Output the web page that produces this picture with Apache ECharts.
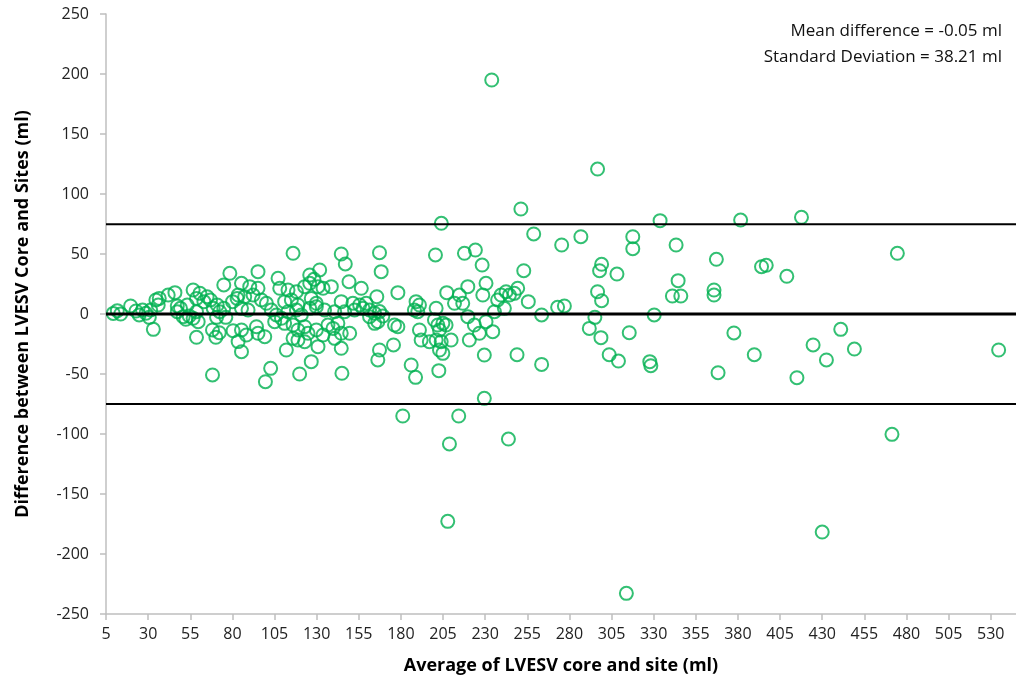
<!DOCTYPE html>
<html><head><meta charset="utf-8">
<script src="https://cdn.jsdelivr.net/npm/echarts@6/dist/echarts.min.js"></script>
<style>html,body{margin:0;padding:0;background:#fff}#c{width:1016px;height:682px}</style>
</head><body><div id="c"></div>
<script>
// Average of LVESV core and site (ml) / Difference core - site (ml), grouped by region of the plot
const avgA = [9.3,11.7,13.7,19.6,22.8,24.7,26.7,28.7,30.7,31.5,33.1,34.6,36.6,36,41.9,45.9,47.3,49.2,47.3,50.8,52.4,53.2,56.7,58.7,60.7,63.1,65,67,58.7,56.7,59.7,54.4,58.7,68.6,71,72.5,74.9,70.6,76.1,68.2,70.2,72.2,68.2,74.9,78.5,80.1,82.8,80.4,83.4];
const diffA = [0.5,2.8,0,6.7,2.5,-0.8,3.3,0.6,-2.8,3.3,-12.8,11.7,13,7.5,15.8,17.8,6.7,4.7,1.9,-2.2,-4.4,7.5,20,13,17.2,10.3,14.4,11.7,1.9,-3.6,-6.4,-1.7,-19.4,4.7,7.5,1.9,4.7,-2.8,-2.8,-13.3,-19.4,-15.6,-50.8,24.2,33.9,10.3,13,-13.9,-23];

const avgB = [116,144.6,147,95.2,107.1,131.8,125.9,128.4,149.2,85.4,90.3,95.2,108.1,113,118,122.9,125.9,130.8,133.8,138.7,156.5,83.4,87.3,92.3,97.2,100.2,111,115,118.9,126.8,129.8,144.6,151.5,155.5,159.4,85.4,89.3,103.1,106.1,109.1,113,118,120.9,125.9,129.8,134.7,140.7,146.6,152.5,157.5,161.4,85.4,88.3,94.3,95.2,99.2,105.1,111,116,118.9,122.9,124.9,129.8,133.8,136.7,139.7,142.6,144.6,149.6,118.9,122.9,116,140.7,85.4,112,130.8,144.6,126.8,102.7,99.6,119.9,145];
const diffB = [50.6,50,41.7,35.3,29.7,36.7,32.5,28.9,26.9,25.6,22.8,21.4,21.4,20,18.6,22.8,25.6,22.8,21.4,22.8,21.4,15.8,14.4,15.8,11.7,8.9,10.3,11.7,7.5,13,8.9,10.3,8.9,7.5,8.9,4.7,3.3,3.3,-0.8,-3.6,1.9,3.3,-0.8,4.7,6.1,3.3,1.9,1.9,3.3,4.7,-2.2,-13.3,-17.5,-10.6,-16.1,-18.9,-6.4,-7.8,-9.2,-13.3,-10.6,-16.1,-13.3,-17.5,-9.2,-12,-7.8,-16.1,-16.1,-21.7,-23.1,-20.3,-20.3,-31.4,-30,-27.2,-28.6,-39.7,-45.3,-56.4,-50,-49.4];

const avgC = [167.3,168.3,200.5,217.7,224.2,228.2,165.7,178.2,161.4,164.4,167.3,169.3,166.3,164.4,176.2,178.2,189,191,188,190,200.9,207.2,211.8,214.7,216.7,219.7,228.6,230.5,235.5,237.4,239.4,199.9,201.9,204.9,206.8,202.9,191,192,196.9,200.9,203.9,209.8,202.9,204.9,219.7,223.6,226.6,230.5,234.5,220.6,229.5,167.3,166.3,175.6,186.1,188.7,202.5,229.5];
const diffC = [51.1,35.3,49.2,50.6,53.3,40.8,14.4,17.8,3.3,0.6,2,-1.7,-6.4,-7.8,-9.2,-10.6,10.3,7.5,3.3,1.9,4.7,17.8,8.9,15.8,8.9,22.8,15.8,25.6,1.9,11.7,15.8,-5,-9.2,-7.8,-9.2,-13.3,-13.3,-21.7,-23.1,-21.7,-23.1,-21.7,-30,-32.8,-2.2,-9.2,-16.1,-6.4,-14.7,-21.7,-34.2,-30,-38.3,-25.8,-42.5,-52.8,-47.2,-70.3];

const avgD = [242.4,244.4,247.3,249.3,258.8,275.4,286.8,317.6,317.6,343.3,252.9,255.6,241.4,263.5,273,277,299.1,297.9,308.2,296.7,299.1,295.1,291.8,298.7,315.5,330.3,344.5,341.1,346.1,248.9,263.5,303.6,309.1,327.7,328.3,333.8];
const diffD = [18.6,15.8,17.2,21.4,66.7,57.5,64.4,64.4,54.4,57.5,36.1,10.3,4.7,-0.8,5.6,6.7,41.4,36.1,33.3,18.6,11.1,-2.8,-12,-19.7,-15.6,-0.8,27.8,15,15,-33.9,-42,-33.9,-39.2,-39.7,-43.1,77.8];

const avgE = [381.6,417.7,367.2,394,396.8,409,365.8,365.8,474.6,377.6,389.7,368.2,424.6,441,449.1,432.5,415,534.7];
const diffE = [78.3,80.6,45.6,39.4,40.6,31.4,20,15.8,50.6,-15.8,-33.9,-48.9,-25.8,-12.8,-29.2,-38.3,-53.1,-30];

const avgF = [233.9,296.7,251.2,204,181.1,214.3,208.8,243.8,207.8,313.8,430,471.4];
const diffF = [195,120.8,87.5,75.6,-85,-85,-108.3,-104.2,-172.8,-232.8,-181.7,-100.3];

const meanDiff = -0.05;
const upperLimit = 74.84;
const lowerLimit = -74.94;
const annotation = ['Mean difference = -0.05 ml', 'Standard Deviation = 38.21 ml'];

const xAxisRange = [5, 545], xStep = 25;
const yAxisRange = [-250, 250], yStep = 50;

const avgAll = [].concat(avgA, avgB, avgC, avgD, avgE, avgF);
const diffAll = [].concat(diffA, diffB, diffC, diffD, diffE, diffF);
const points = avgAll.map((x, i) => [x, diffAll[i]]);

const FONT = '"Open Sans", "Liberation Sans", sans-serif';
const axisGray = '#BFBFBF';

function hLine(y, w) {
  return {
    type: 'line', data: [[xAxisRange[0], y], [xAxisRange[1], y]],
    symbol: 'none', silent: true, z: 5,
    lineStyle: { color: '#000', width: w }, animation: false
  };
}

const chart = echarts.init(document.getElementById('c'), null, { renderer: 'canvas' });
chart.setOption({
  animation: false,
  backgroundColor: '#fff',
  grid: { left: 106, top: 14, width: 911, height: 600, containLabel: false },
  xAxis: {
    type: 'value', min: xAxisRange[0], max: xAxisRange[1], interval: xStep,
    name: 'Average of LVESV core and site (ml)', nameLocation: 'middle', nameGap: 43,
    nameTextStyle: { fontFamily: FONT, fontSize: 18, fontWeight: 'bold', color: '#000' },
    axisLine: { show: true, onZero: false, lineStyle: { color: axisGray, width: 1.5 } },
    axisTick: { show: true, length: 6, lineStyle: { color: axisGray, width: 1.5 } },
    axisLabel: { showMaxLabel: false, margin: 12, fontFamily: FONT, fontSize: 16, color: '#222' },
    splitLine: { show: false }
  },
  yAxis: {
    type: 'value', min: yAxisRange[0], max: yAxisRange[1], interval: yStep,
    name: 'Difference between LVESV Core and Sites (ml)', nameLocation: 'middle', nameGap: 74,
    nameTextStyle: { fontFamily: FONT, fontSize: 18, fontWeight: 'bold', color: '#000' },
    axisLine: { show: true, lineStyle: { color: axisGray, width: 1.5 } },
    axisTick: { show: true, length: 6, lineStyle: { color: axisGray, width: 1.5 } },
    axisLabel: { margin: 17, fontFamily: FONT, fontSize: 16, color: '#222' },
    splitLine: { show: false }
  },
  series: [
    {
      type: 'scatter', data: points, symbol: 'circle', symbolSize: 13, z: 3,
      itemStyle: { color: 'rgba(0,0,0,0)', borderColor: '#00B050', borderWidth: 2 }
    },
    hLine(upperLimit, 2),
    hLine(meanDiff, 3),
    hLine(lowerLimit, 2)
  ],
  graphic: annotation.map((t, i) => ({
    type: 'text', x: 1002, y: 31 + i * 26, z: 10,
    style: { text: t, align: 'right', verticalAlign: 'middle', fontFamily: FONT, fontSize: 17, fill: '#111' }
  }))
});
</script></body></html>
